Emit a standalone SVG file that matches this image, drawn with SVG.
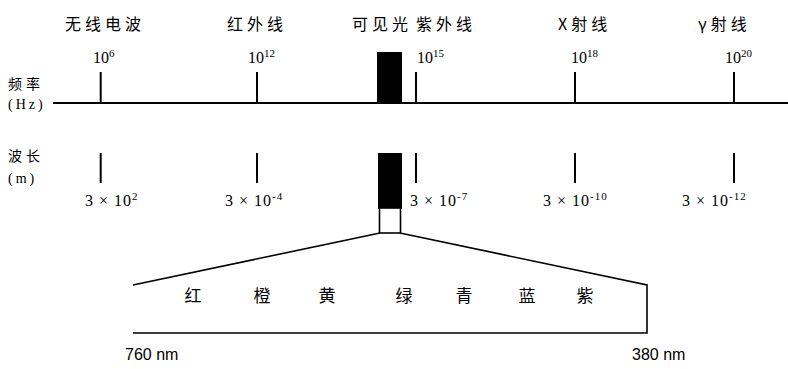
<svg xmlns="http://www.w3.org/2000/svg" width="788" height="369" viewBox="0 0 788 369">
<style>
.cjk{font-family:"Noto Sans CJK SC","Liberation Sans",sans-serif;fill:#000}
.top{font-size:16px;letter-spacing:4px}
.side{font-size:14px;letter-spacing:4px}
.col{font-size:17px}
.num{font-family:"Liberation Serif",serif;font-size:16px;fill:#000}
.wl{letter-spacing:1px}
.sup{font-size:11px}
.ln{stroke:#000;stroke-width:2;fill:none}
.fan{stroke:#000;stroke-width:1.6;fill:none}
</style>
<rect width="788" height="369" fill="#fff"/>
<g id="labels-top">
<text class="cjk top" x="65" y="30">无线电波</text>
<text class="cjk top" x="227" y="30">红外线</text>
<text class="cjk top" x="352" y="30">可见光</text>
<text class="cjk top" x="416" y="30">紫外线</text>
<text class="cjk top" x="558" y="30">X射线</text>
<text class="cjk top" x="698" y="30">γ射线</text>
</g>
<g id="axis-labels">
<text class="cjk side" x="8" y="89">频率</text>
<text class="num" x="8" y="109" style="letter-spacing:3px;font-size:14px">(Hz)</text>
<text class="cjk side" x="8" y="161">波长</text>
<text class="num" x="8" y="183" style="letter-spacing:3px;font-size:14px">(m)</text>
</g>
<g id="connectors">
<line class="ln" x1="53" y1="103" x2="788" y2="103"/>
<line class="ln" x1="100.7" y1="72" x2="100.7" y2="103"/>
<line class="ln" x1="257" y1="72" x2="257" y2="103"/>
<line class="ln" x1="416" y1="72" x2="416" y2="103"/>
<line class="ln" x1="575" y1="72" x2="575" y2="103"/>
<line class="ln" x1="734" y1="72" x2="734" y2="103"/>
<line class="ln" x1="100.7" y1="153" x2="100.7" y2="183"/>
<line class="ln" x1="257" y1="153" x2="257" y2="183"/>
<line class="ln" x1="416" y1="153" x2="416" y2="183"/>
<line class="ln" x1="575" y1="153" x2="575" y2="183"/>
<line class="ln" x1="734" y1="153" x2="734" y2="183"/>
<polyline class="fan" points="380,233 133,285"/>
<polyline class="fan" points="400,233 647,285 647,333 133,333"/>
</g>
<g id="visible-bars">
<rect x="377" y="52" width="25" height="51" fill="#000"/>
<rect x="378" y="153" width="24" height="56" fill="#000"/>
<rect x="379.5" y="208" width="21" height="25" fill="#fff" stroke="#000" stroke-width="1.6"/>
</g>
<g id="freq-labels">
<text class="num" x="93" y="63">10<tspan class="sup" dy="-6">6</tspan></text>
<text class="num" x="248" y="63">10<tspan class="sup" dy="-6">12</tspan></text>
<text class="num" x="417" y="63">10<tspan class="sup" dy="-6">15</tspan></text>
<text class="num" x="571" y="63">10<tspan class="sup" dy="-6">18</tspan></text>
<text class="num" x="725" y="63">10<tspan class="sup" dy="-6">20</tspan></text>
</g>
<g id="wave-labels">
<text class="num wl" x="85" y="206">3 × 10<tspan class="sup" dy="-6">2</tspan></text>
<text class="num wl" x="225" y="206">3 × 10<tspan class="sup" dy="-6">-4</tspan></text>
<text class="num wl" x="410" y="206">3 × 10<tspan class="sup" dy="-6">-7</tspan></text>
<text class="num wl" x="543" y="206">3 × 10<tspan class="sup" dy="-6">-10</tspan></text>
<text class="num wl" x="682" y="206">3 × 10<tspan class="sup" dy="-6">-12</tspan></text>
</g>
<g id="colors">
<text class="cjk col" x="193" y="302" text-anchor="middle">红</text>
<text class="cjk col" x="262" y="302" text-anchor="middle">橙</text>
<text class="cjk col" x="327" y="302" text-anchor="middle">黄</text>
<text class="cjk col" x="404" y="302" text-anchor="middle">绿</text>
<text class="cjk col" x="464" y="302" text-anchor="middle">青</text>
<text class="cjk col" x="527" y="302" text-anchor="middle">蓝</text>
<text class="cjk col" x="585" y="302" text-anchor="middle">紫</text>
</g>
<g id="range-labels">
<text class="num" x="125" y="360" style="font-family:'Liberation Sans',sans-serif">760 nm</text>
<text class="num" x="632" y="360" style="font-family:'Liberation Sans',sans-serif">380 nm</text>
</g>
</svg>
